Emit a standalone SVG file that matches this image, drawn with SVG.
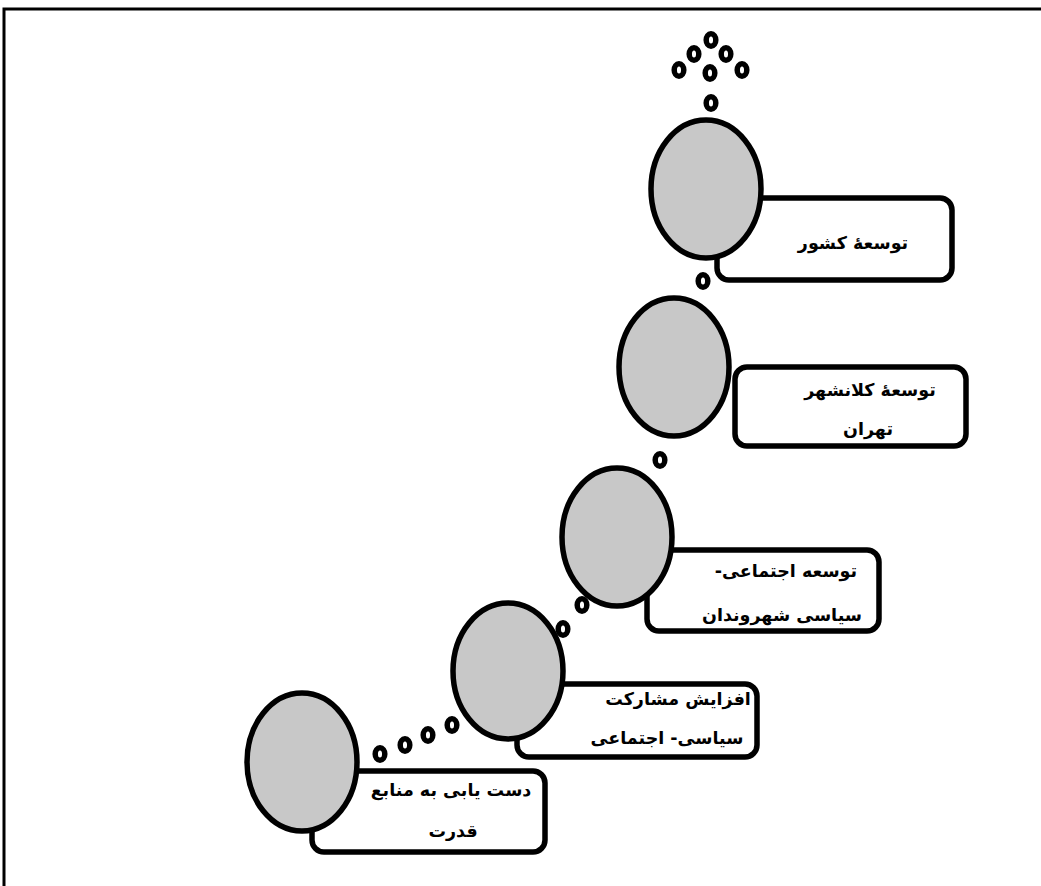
<svg xmlns="http://www.w3.org/2000/svg" width="1041" height="886" viewBox="0 0 1041 886">
<style>
.box{fill:#fff;stroke:#000;stroke-width:5.5}
.ball{fill:#c8c8c8;stroke:#000;stroke-width:5.5}
.dot{fill:#fff;stroke:#000;stroke-width:5.5}
.lbl{font-family:"DejaVu Sans",sans-serif;font-weight:bold;font-size:17.5px;fill:#000;text-anchor:middle;direction:rtl;unicode-bidi:embed}
</style>
<rect width="1041" height="886" fill="#fff"/>
<path d="M4,886 V9 H1041" fill="none" stroke="#000" stroke-width="3"/>
<g id="connectors">
<ellipse class="dot" cx="711" cy="40" rx="4.8" ry="6.3"/>
<ellipse class="dot" cx="694" cy="54" rx="4.8" ry="6.3"/>
<ellipse class="dot" cx="726" cy="54" rx="4.8" ry="6.3"/>
<ellipse class="dot" cx="679" cy="70" rx="4.8" ry="6.3"/>
<ellipse class="dot" cx="710" cy="73" rx="4.8" ry="6.3"/>
<ellipse class="dot" cx="742" cy="70" rx="4.8" ry="6.3"/>
<ellipse class="dot" cx="711" cy="103" rx="4.8" ry="6.3"/>
<ellipse class="dot" cx="703" cy="281" rx="4.8" ry="6.3"/>
<ellipse class="dot" cx="660" cy="460" rx="4.8" ry="6.3"/>
<ellipse class="dot" cx="582" cy="605" rx="4.8" ry="6.3"/>
<ellipse class="dot" cx="563" cy="629" rx="4.8" ry="6.3"/>
<ellipse class="dot" cx="452" cy="725" rx="4.8" ry="6.3"/>
<ellipse class="dot" cx="428" cy="735" rx="4.8" ry="6.3"/>
<ellipse class="dot" cx="405" cy="745" rx="4.8" ry="6.3"/>
<ellipse class="dot" cx="380" cy="754" rx="4.8" ry="6.3"/>
</g>
<g id="node1">
<rect class="box" x="717" y="198" width="235" height="82" rx="12"/>
<ellipse class="ball" cx="706" cy="189" rx="55" ry="69"/>
<text class="lbl" x="853" y="249">توسعهٔ کشور</text>
</g>
<g id="node2">
<rect class="box" x="735" y="367" width="231" height="79" rx="12"/>
<ellipse class="ball" cx="674" cy="367" rx="55" ry="69"/>
<text class="lbl" x="870" y="396">توسعهٔ کلانشهر</text>
<text class="lbl" x="868" y="435">تهران</text>
</g>
<g id="node3">
<rect class="box" x="647" y="550" width="232" height="81" rx="12"/>
<ellipse class="ball" cx="617" cy="537" rx="55" ry="69"/>
<text class="lbl" x="786" y="577">توسعه اجتماعی-</text>
<text class="lbl" x="782" y="621">سیاسی شهروندان</text>
</g>
<g id="node4">
<rect class="box" x="517" y="684" width="240" height="73" rx="12"/>
<ellipse class="ball" cx="508" cy="671" rx="55" ry="68"/>
<text class="lbl" x="678" y="705">افزایش مشارکت</text>
<text class="lbl" x="667" y="744">سیاسی- اجتماعی</text>
</g>
<g id="node5">
<rect class="box" x="312" y="771" width="233" height="81" rx="12"/>
<ellipse class="ball" cx="302" cy="762" rx="55" ry="69"/>
<text class="lbl" x="451" y="796">دست یابی به منابع</text>
<text class="lbl" x="453" y="837">قدرت</text>
</g>
</svg>
